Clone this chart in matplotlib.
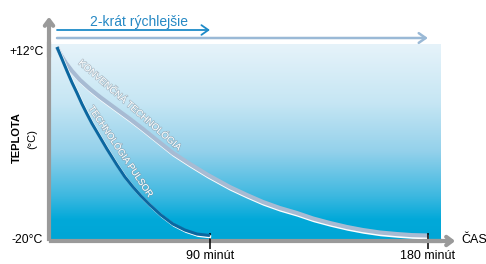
import numpy as np
import matplotlib
matplotlib.use("Agg")
import matplotlib.pyplot as plt
from matplotlib import patheffects as pe
from matplotlib.colors import LinearSegmentedColormap

plt.rcParams['font.family'] = ['Liberation Sans', 'DejaVu Sans']

# ---- data (minutes, °C) ----
pulsor_t = [0, 6.19, 10.65, 14.62, 18.32, 21.81, 25.16, 28.38, 31.50, 37.51,
            43.28, 47.72, 52.08, 56.31, 60.97, 66.54, 72.48, 78.27, 83.97, 90]
pulsor_T = [12, 9.96, 7.93, 5.97, 4.19, 2.32, 0.63, -0.99, -2.43, -5.32,
            -8.04, -10.07, -11.77, -13.29, -14.82, -16.52, -18.05, -19.07, -19.75, -20.0]
conv_t = [0, 5.20, 9.81, 14.62, 20.43, 27.11, 33.35, 42.13, 50.44, 57.35,
          65.03, 72.48, 80.66, 89.08, 99.06, 106.6, 113.6, 120.8, 128.0, 134.7,
          141.6, 148.5, 154.8, 161.5, 168.1, 173.9, 180]
conv_T = [12, 10.64, 9.28, 7.93, 6.40, 4.87, 3.51, 1.64, -0.22, -1.92,
          -3.96, -5.99, -7.86, -9.73, -11.77, -13.12, -14.31, -15.33, -16.18, -17.11,
          -17.88, -18.56, -19.07, -19.49, -19.75, -19.93, -20.0]
tick_vals = [90, 180]
tick_labels = ["90 minút", "180 minút"]
y_labels = ["+12°C", "-20°C"]
curve_labels = ["KONVENČNÁ TECHNOLÓGIA", "TECHNOLÓGIA PULSOR"]
faster_label = "2-krát rýchlejšie"

W, H = 486, 264
fig = plt.figure(figsize=(W / 100, H / 100), dpi=100)


def fpos(x, y):
    return (x / W, 1 - y / H)


l, r, t, b = 51, 440, 44, 239
ax = fig.add_axes([l / W, 1 - b / H, (r - l) / W, (b - t) / H])

P = 1.278
fwd = lambda v: np.sign(v) * np.abs(v) ** P
inv = lambda v: np.sign(v) * np.abs(v) ** (1 / P)
ax.set_xscale('function', functions=(fwd, inv))
ax.set_xlim(-7.14, 184.6)
ax.set_ylim(-20.59, 12.51)

# gradient background
cmap = LinearSegmentedColormap.from_list('bg', [
    (0.0, '#e6f3fa'), (0.3, '#c6e6f4'), (0.55, '#94d1eb'),
    (0.78, '#3db8e0'), (0.9, '#02a9d9'), (1.0, '#00a6d6')])
grad = np.linspace(0, 1, 256).reshape(-1, 1)
ax.imshow(grad, cmap=cmap, aspect='auto', extent=[0, 1, 0, 1],
          transform=ax.transAxes, zorder=0)

# curves
ax.plot(conv_t, conv_T, color='#a7bbd3', lw=3.0, solid_capstyle='butt',
        solid_joinstyle='round', zorder=3,
        path_effects=[pe.SimpleLineShadow(offset=(0.8, -1.2), shadow_color='white', alpha=1, rho=1),
                      pe.Normal()])
ax.plot(pulsor_t, pulsor_T, color='#0b67a0', lw=2.2, solid_capstyle='butt',
        solid_joinstyle='round', zorder=4,
        path_effects=[pe.SimpleLineShadow(offset=(0.9, -1.0), shadow_color='white', alpha=1, rho=1),
                      pe.Normal()])

# curve labels
lab_fx = [pe.withStroke(linewidth=1.0, foreground='#7f8c99', alpha=0.5)]
ax.text(50.44, 2.15, curve_labels[0], rotation=-41, color='white', fontsize=6.9,
        ha='center', va='center', rotation_mode='anchor', path_effects=lab_fx, zorder=5)
ax.text(45.0, -5.66, curve_labels[1], rotation=-56, color='white', fontsize=6.7,
        ha='center', va='center', rotation_mode='anchor', path_effects=lab_fx, zorder=5)

# spines as gray axes bars
for s in ['top', 'right']:
    ax.spines[s].set_visible(False)
gray = '#9a9a9a'
for s in ['left', 'bottom']:
    ax.spines[s].set_color(gray)
    ax.spines[s].set_linewidth(3.0)
    ax.spines[s].set_position(('outward', 1.2))

ax.set_yticks([])
ax.set_xticks(tick_vals)
ax.set_xticklabels(tick_labels, fontsize=9)
ax.tick_params(axis='x', direction='inout', length=11, width=1.1, color='black', pad=1)
ax.xaxis.set_zorder(3)

# arrowheads of axes
fig.add_artist(matplotlib.patches.FancyArrowPatch(
    fpos(49, 60), fpos(49, 14), transform=fig.transFigure,
    arrowstyle='->,head_length=4,head_width=3', lw=3.0, color=gray, mutation_scale=1))
fig.add_artist(matplotlib.patches.FancyArrowPatch(
    fpos(420, 241), fpos(458, 241), transform=fig.transFigure,
    arrowstyle='->,head_length=4,head_width=3', lw=3.0, color=gray, mutation_scale=1))

# texts
fig.text(*fpos(44, 52), y_labels[0], ha='right', va='center', fontsize=8.8)
fig.text(*fpos(43, 240), y_labels[1], ha='right', va='center', fontsize=8.8)
fig.text(*fpos(17, 138), "TEPLOTA", rotation=90, ha='center', va='center',
         fontsize=8, fontweight='bold')
fig.text(*fpos(32, 139), "(°C)", rotation=90, ha='center', va='center', fontsize=8)
fig.text(*fpos(461, 240), "ČAS", ha='left', va='center', fontsize=9)

# top duration arrows (x in data, y in figure)
trans = matplotlib.transforms.blended_transform_factory(ax.transData, fig.transFigure)
ax.annotate('', xy=(90, fpos(0, 30)[1]), xycoords=trans,
            xytext=(0, fpos(0, 30)[1]), textcoords=trans,
            arrowprops=dict(arrowstyle='->,head_length=0.5,head_width=0.35',
                            color='#1e8bc8', lw=1.3, shrinkA=0, shrinkB=0),
            annotation_clip=False)
ax.annotate('', xy=(180, fpos(0, 38)[1]), xycoords=trans,
            xytext=(0, fpos(0, 38)[1]), textcoords=trans,
            arrowprops=dict(arrowstyle='->,head_length=0.5,head_width=0.35',
                            color='#9ab9d6', lw=1.8, shrinkA=0, shrinkB=0),
            annotation_clip=False)
fig.text(*fpos(139, 22), faster_label, ha='center', va='center', fontsize=10,
         color='#2588c4')

fig.savefig('out.png', dpi=100)
